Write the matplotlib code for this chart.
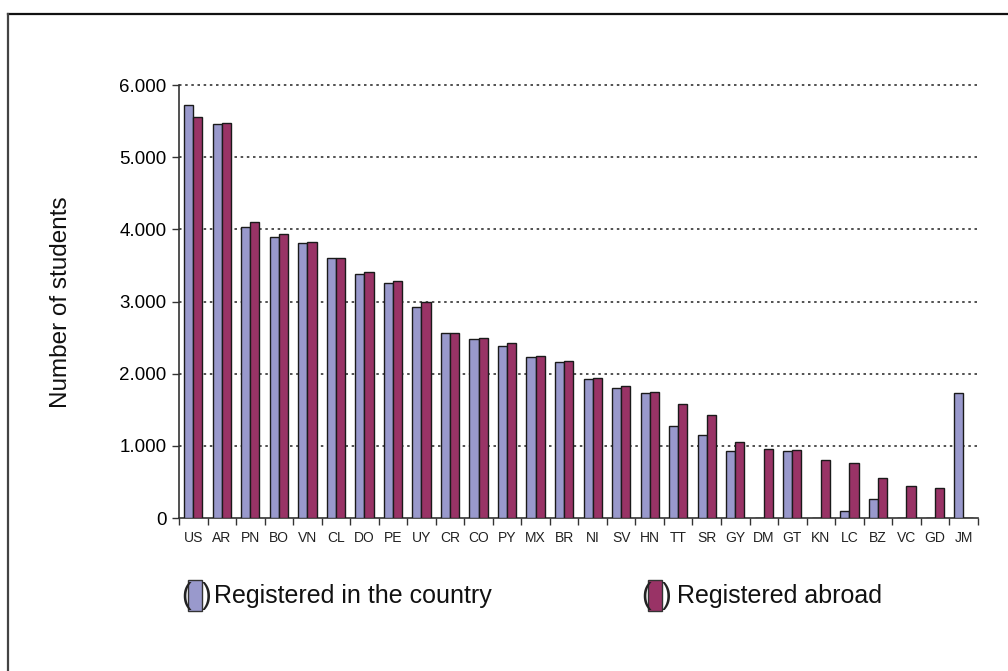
import matplotlib.pyplot as plt
from matplotlib.lines import Line2D
from matplotlib.patches import Rectangle
import numpy as np

plt.rcParams['font.family'] = ['Liberation Sans', 'DejaVu Sans']

countries = ['US', 'AR', 'PN', 'BO', 'VN', 'CL', 'DO', 'PE', 'UY', 'CR',
             'CO', 'PY', 'MX', 'BR', 'NI', 'SV', 'HN', 'TT', 'SR', 'GY',
             'DM', 'GT', 'KN', 'LC', 'BZ', 'VC', 'GD', 'JM']
in_country = [5720, 5460, 4030, 3890, 3810, 3600, 3380, 3250, 2920, 2560,
              2480, 2380, 2225, 2160, 1920, 1805, 1727, 1275, 1150, 930,
              0, 930, 0, 100, 270, 0, 0, 1730]
abroad = [5550, 5480, 4100, 3930, 3820, 3600, 3410, 3280, 2990, 2560,
          2500, 2420, 2240, 2180, 1940, 1825, 1740, 1580, 1430, 1050,
          955, 940, 800, 760, 560, 445, 415, 0]
yticks = [0, 1000, 2000, 3000, 4000, 5000, 6000]
ytick_labels = ['0', '1.000', '2.000', '3.000', '4.000', '5.000', '6.000']

col_in = '#9999CC'
col_ab = '#993366'

fig = plt.figure(figsize=(10.08, 6.71), dpi=100)
ax = fig.add_axes([0.1776, 0.228, 0.7924, 0.6453])

x = np.arange(len(countries))
w = 0.32
ax.bar(x - w / 2, in_country, w, color=col_in, edgecolor='#1a1a1a', linewidth=1, zorder=3)
ax.bar(x + w / 2, abroad, w, color=col_ab, edgecolor='#1a1a1a', linewidth=1, zorder=3)

ax.set_xlim(-0.5, len(countries) - 0.5)
ax.set_ylim(0, 6000)

# category labels in the middle, tick marks on the boundaries
ax.set_xticks(np.arange(len(countries) + 1) - 0.5)
ax.set_xticklabels([])
ax.set_xticks(x, minor=True)
ax.set_xticklabels(countries, minor=True, fontsize=10, color='#222222')
ax.tick_params(axis='x', which='major', length=5, width=1, color='#333333')
ax.tick_params(axis='x', which='minor', length=0, pad=9)

ax.set_yticks(yticks)
ax.set_yticklabels(ytick_labels, fontsize=13.5)
ax.tick_params(axis='y', length=5, width=1, color='#333333', pad=4)

for v in yticks[1:]:
    ax.axhline(v, color='#333333', linestyle=(0, (1.5, 2.2)), linewidth=1.2,
               zorder=1, clip_on=False)

for s in ['top', 'right']:
    ax.spines[s].set_visible(False)
for s in ['left', 'bottom']:
    ax.spines[s].set_color('#333333')
    ax.spines[s].set_linewidth(1.2)

fig.text(61 / 1008, 1 - 302 / 671, 'Number of students', rotation=90,
         ha='center', va='center', fontsize=17.5, color='#111111')

# legend built by hand: "(box) label"
def legend_item(x0, color, label, gap):
    yc = 1 - 596 / 671
    fig.text(x0 / 1008, yc, '(', fontsize=21, ha='left', va='center', color='#222222')
    fig.patches.append(Rectangle(((x0 + 7) / 1008, 1 - 611 / 671), 14 / 1008, 31 / 671,
                                 transform=fig.transFigure, facecolor=color,
                                 edgecolor='#333333', linewidth=1))
    fig.text((x0 + 21) / 1008, yc, ')', fontsize=21, ha='left', va='center', color='#222222')
    fig.text((x0 + 33 + gap) / 1008, yc, label, fontsize=18, ha='left', va='center', color='#111111')

legend_item(181, col_in, 'Registered in the country', 0)
legend_item(641, col_ab, 'Registered abroad', 3)

# frame lines along the top and left edge
fig.add_artist(Line2D([8 / 1008, 1], [1 - 14 / 671, 1 - 14 / 671],
                      transform=fig.transFigure, color='#111111', linewidth=1.6))
fig.add_artist(Line2D([8 / 1008, 8 / 1008], [0, 1 - 14 / 671],
                      transform=fig.transFigure, color='#444444', linewidth=1.6))

fig.savefig('out.png', dpi=100)
